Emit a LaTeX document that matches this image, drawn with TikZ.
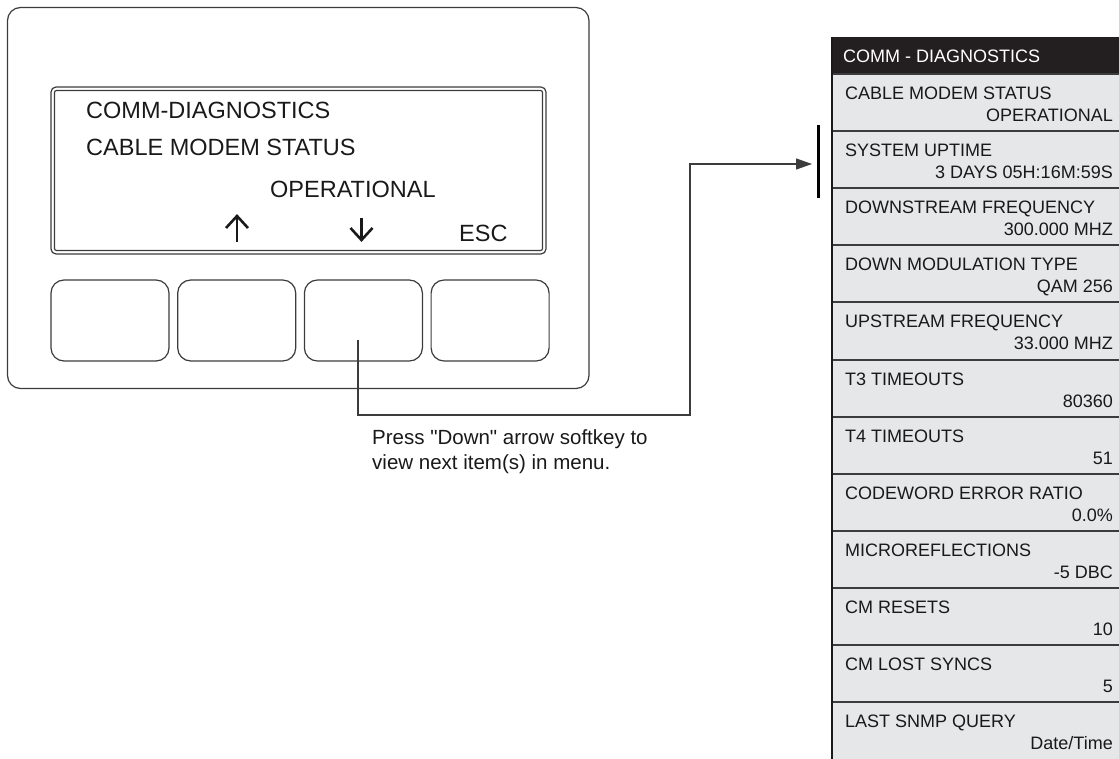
\documentclass[tikz,border=0pt]{standalone}
\usepackage{fontspec}
\setmainfont{Liberation Sans}
\usetikzlibrary{arrows.meta,positioning}

\definecolor{linegray}{HTML}{3C3C3C}
\definecolor{rowgray}{HTML}{E6E7E8}
\definecolor{headblack}{HTML}{231F20}

\tikzset{
  softkey/.style={draw=linegray, line width=1.2pt, rounded corners=13pt,
    minimum width=118pt, minimum height=81pt, inner sep=0pt},
  lcdtext/.style={font=\fontsize{23.5}{28}\selectfont, text=black!90,
    inner sep=0pt, anchor=base west},
  rowlabel/.style={font=\fontsize{18}{21}\selectfont, text=black!90,
    inner sep=0pt, anchor=base west},
  rowvalue/.style={font=\fontsize{18}{21}\selectfont, text=black!90,
    inner sep=0pt, anchor=base east},
  keyarrow/.style={draw=black!90, line width=2.6pt},
}

\begin{document}
\begin{tikzpicture}[x=1pt, y=-1pt]
  \useasboundingbox (0,0) rectangle (1119,759);

  % Device frame
  \draw[draw=linegray, line width=1.2pt, rounded corners=13pt] (7.5,7.5) rectangle (589,388.5);

  % Display (double border)
  \draw[draw=linegray, line width=1.2pt, rounded corners=5pt] (51,87) rectangle (546,254);
  \draw[draw=linegray, line width=1.2pt, rounded corners=2pt] (54.5,90.5) rectangle (542.5,250.5);

  % Display text
  \node[lcdtext] (lcdmenu) at (86,119) {COMM-DIAGNOSTICS};
  \node[lcdtext] (lcditem) at (86,156) {CABLE MODEM STATUS};
  \node[lcdtext] (lcdvalue) at (270,198) {OPERATIONAL};
  \node[lcdtext] (lcdesc) at (459,242) {ESC};

  % Softkey arrows
  \draw[keyarrow] (237,242) -- (237,216);
  \draw[keyarrow] (226,228) -- (237,216) -- (248,228);
  \draw[keyarrow] (361.5,218) -- (361.5,240);
  \draw[keyarrow] (350.5,228) -- (361.5,240) -- (372.5,228);

  % Softkeys
  \node[softkey] (key1) at (110,320.5) {};
  \node[softkey, right=7.5pt of key1] (key2) {};
  \node[softkey, right=7.5pt of key2] (key3) {};
  \node[softkey, right=7.5pt of key3] (key4) {};

  % Connector to menu list
  \coordinate (press) at (358,340);
  \coordinate (target) at (812,164);
  \draw[draw=linegray, line width=1.2pt, -{Triangle[length=16pt, width=11pt]}]
    (press) -- ++(0,75) -| (690,164) -- (target);
  \draw[draw=black, line width=3pt] (818,125) -- (818,198);

  \node[font=\fontsize{20.5}{25}\selectfont, text=black!90, inner sep=0pt,
    anchor=base west, align=left] (hint) at (372,469)
    {Press \textquotedbl Down\textquotedbl\ arrow softkey to\\view next item(s) in menu.};

  % Menu list
  \fill[headblack] (832,37) rectangle (1119,74);
  \node[rowlabel, text=white] (listhead) at (843,63) {COMM - DIAGNOSTICS};
  \foreach \lab/\val [count=\i from 0] in {
      {CABLE MODEM STATUS}/{OPERATIONAL},
      {SYSTEM UPTIME}/{3 DAYS 05H:16M:59S},
      {DOWNSTREAM FREQUENCY}/{300.000 MHZ},
      {DOWN MODULATION TYPE}/{QAM 256},
      {UPSTREAM FREQUENCY}/{33.000 MHZ},
      {T3 TIMEOUTS}/{80360},
      {T4 TIMEOUTS}/{51},
      {CODEWORD ERROR RATIO}/{0.0\%},
      {MICROREFLECTIONS}/{-5 DBC},
      {CM RESETS}/{10},
      {CM LOST SYNCS}/{5},
      {LAST SNMP QUERY}/{Date/Time}} {
    \pgfmathsetmacro{\rowtop}{74+57.1*\i}
    \fill[rowgray] (832,\rowtop) rectangle (1119,\rowtop+57.1);
    \draw[draw=linegray, line width=2pt] (832,\rowtop) -- (1119,\rowtop);
    \node[rowlabel] (lab\i) at (845,\rowtop+25.5) {\lab};
    \node[rowvalue] (val\i) at (1113,\rowtop+47.5) {\val};
  }
  \draw[draw=black!90, line width=2.5pt] (832,37) -- (832,759);
\end{tikzpicture}
\end{document}
